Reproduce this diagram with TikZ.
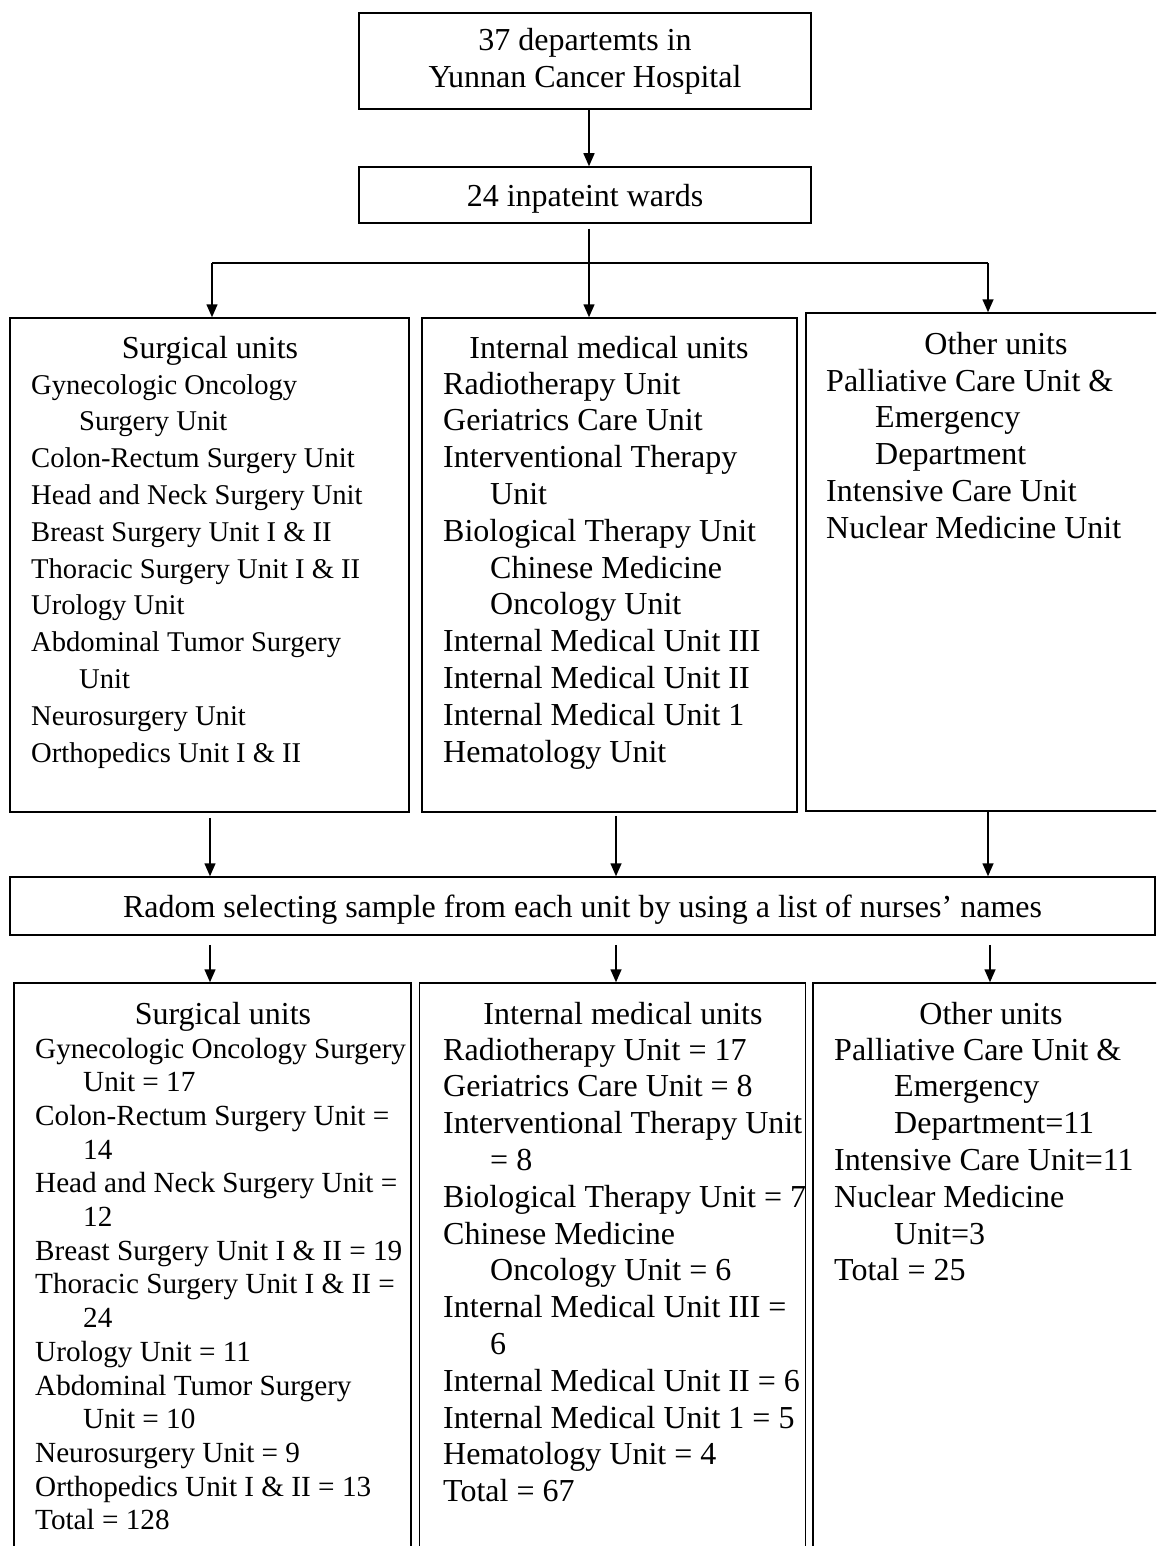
\documentclass[tikz,border=0pt]{standalone}
\usepackage{fontspec}
\setmainfont{Liberation Serif}
\usetikzlibrary{arrows.meta}

% hanging indent of a wrapped line
\newcommand\ind[1][48]{\hspace*{#1pt}}

\tikzset{
  box/.style={draw, line width=1.5pt, inner sep=0pt},
  arr/.style={line width=1.5pt, -{Triangle[length=13pt,width=11pt]}},
  link/.style={line width=1.5pt},
  big/.style={font=\fontsize{32}{37}\selectfont},
  narrow/.style={font=\fontsize{28.6}{37}\selectfont},
  narrowb/.style={font=\fontsize{29.2}{34}\selectfont},
  item/.style={anchor=base west, inner sep=0pt}
}

\begin{document}
\begin{tikzpicture}[x=1pt, y=-1pt]
    \useasboundingbox (0,0) rectangle (1156,1546);
    \clip (0,0) rectangle (1156,1546);

    % Cajas superiores
    \node[box, big, align=center, minimum width=452, minimum height=96] (dept) at (585,61)
        {37 departemts in\\Yunnan Cancer Hospital};
    \node[box, big, text height=24pt, text depth=0pt, minimum width=452, minimum height=56] (wards) at (585,195)
        {24 inpateint wards};

    % Tres grupos de unidades
    \node[box, minimum width=399, minimum height=494] (surg) at (209.5,565) {};
    \node[box, minimum width=375, minimum height=494] (inner) at (609.5,565) {};
    \node[box, minimum width=370, minimum height=498] (other) at (991,562) {};

    % Muestreo
    \node[box, big, text height=22pt, text depth=0pt, minimum width=1145, minimum height=58] (radom) at (582.5,906)
        {Radom selecting sample from each unit by using a list of nurses' names};

    % Cajas inferiores (cortadas por el borde)
    \node[box, minimum width=397, minimum height=600] (surgN) at (212.5,1283) {};
    \node[box, minimum width=386, minimum height=600] (innerN) at (612.5,1283) {};
    \node[box, minimum width=360, minimum height=600] (otherN) at (993,1283) {};

    % Puntos de reparto
    \coordinate (split) at (589,263);
    \coordinate (forkL) at (212,263);
    \coordinate (forkR) at (988,263);
    \coordinate (colL) at (210,0);
    \coordinate (colM) at (616,0);
    \coordinate (colR) at (988,0);
    \coordinate (colRb) at (990,0);

    % Flechas
    \draw[arr] (dept.south -| split) -- (wards.north -| split);
    \draw[arr, shorten <=5pt] (wards.south -| split) -- (inner.north -| split);
    \draw[link] (forkL) -- (forkR);
    \draw[arr] (forkL) -- (surg.north -| forkL);
    \draw[arr] (forkR) -- (other.north -| forkR);

    \draw[arr, shorten <=5pt] (surg.south -| colL) -- (radom.north -| colL);
    \draw[arr, shorten <=3pt] (inner.south -| colM) -- (radom.north -| colM);
    \draw[arr] (other.south -| colR) -- (radom.north -| colR);

    \draw[arr, shorten <=9pt] (radom.south -| colL) -- (surgN.north -| colL);
    \draw[arr, shorten <=9pt] (radom.south -| colM) -- (innerN.north -| colM);
    \draw[arr, shorten <=9pt] (radom.south -| colRb) -- (otherN.north -| colRb);

    % Titulos
    \node[big, anchor=base] (surgT) at (210,358) {Surgical units};
    \node[big, anchor=base] (innerT) at (609,358) {Internal medical units};
    \node[big, anchor=base] (otherT) at (996,354) {Other units};
    \node[big, anchor=base] (surgNT) at (223,1024) {Surgical units};
    \node[big, anchor=base] (innerNT) at (623,1024) {Internal medical units};
    \node[big, anchor=base] (otherNT) at (991,1024) {Other units};

    % Listas de unidades
    \foreach \t [count=\i] in {Gynecologic Oncology, \ind Surgery Unit,
        Colon-Rectum Surgery Unit, Head and Neck Surgery Unit,
        Breast Surgery Unit I \& II, Thoracic Surgery Unit I \& II,
        Urology Unit, Abdominal Tumor Surgery, \ind Unit,
        Neurosurgery Unit, Orthopedics Unit I \& II}
        \node[item, narrow] (surg\i) at (31,{394+36.8*(\i-1)}) {\t};

    \foreach \t [count=\i] in {Radiotherapy Unit, Geriatrics Care Unit,
        Interventional Therapy, \ind[47]Unit, Biological Therapy Unit,
        \ind[47]Chinese Medicine, \ind[47]Oncology Unit,
        Internal Medical Unit III, Internal Medical Unit II,
        Internal Medical Unit 1, Hematology Unit}
        \node[item, big] (inner\i) at (443,{394+36.8*(\i-1)}) {\t};

    \foreach \t [count=\i] in {Palliative Care Unit \&, \ind[49]Emergency,
        \ind[49]Department, Intensive Care Unit, Nuclear Medicine Unit}
        \node[item, big] (other\i) at (826,{391+36.8*(\i-1)}) {\t};

    \foreach \t [count=\i] in {Gynecologic Oncology Surgery, \ind Unit = 17,
        Colon-Rectum Surgery Unit =, \ind 14,
        Head and Neck Surgery Unit =, \ind 12,
        Breast Surgery Unit I \& II = 19, Thoracic Surgery Unit I \& II =,
        \ind 24, Urology Unit = 11, Abdominal Tumor Surgery, \ind Unit = 10,
        Neurosurgery Unit = 9, Orthopedics Unit I \& II = 13, Total = 128}
        \node[item, narrowb] (surgN\i) at (35,{1058+33.7*(\i-1)}) {\t};

    \foreach \t [count=\i] in {Radiotherapy Unit = 17, Geriatrics Care Unit = 8,
        Interventional Therapy Unit, \ind[47]= 8, Biological Therapy Unit = 7,
        Chinese Medicine, \ind[47]Oncology Unit = 6,
        Internal Medical Unit III =, \ind[47]6,
        Internal Medical Unit II = 6, Internal Medical Unit 1 = 5,
        Hematology Unit = 4, Total = 67}
        \node[item, big] (innerN\i) at (443,{1060+36.8*(\i-1)}) {\t};

    \foreach \t [count=\i] in {Palliative Care Unit \&, \ind[60]Emergency,
        \ind[60]Department=11, Intensive Care Unit=11, Nuclear Medicine,
        \ind[60]Unit=3, Total = 25}
        \node[item, big] (otherN\i) at (834,{1060+36.8*(\i-1)}) {\t};
\end{tikzpicture}
\end{document}
